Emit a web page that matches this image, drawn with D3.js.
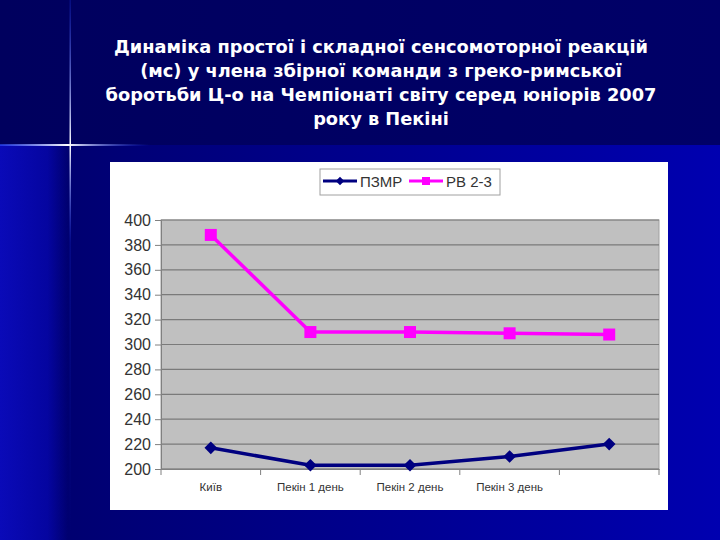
<!DOCTYPE html>
<html><head><meta charset="utf-8">
<script src="https://cdn.jsdelivr.net/npm/d3@7"></script>
<style>html,body{margin:0;padding:0;background:#000066;}svg{display:block;}</style>
</head><body>
<svg id="c" width="720" height="540"></svg>
<script>
const categories = ["Київ", "Пекін 1 день", "Пекін 2 день", "Пекін 3 день", ""];
const seriesNames = ["ПЗМР", "РВ 2-3"];
const pzmr = [217, 203, 203, 210, 220];
const rv23 = [388, 310, 310, 309, 308];
const yTicks = [200, 220, 240, 260, 280, 300, 320, 340, 360, 380, 400];
const titleLines = ["Динаміка простої і складної сенсомоторної реакцій",
  "(мс) у члена збірної команди з греко-римської",
  "боротьби Ц-о на Чемпіонаті світу серед юніорів 2007",
  "року в Пекіні"];

const svg = d3.select("#c");
const defs = svg.append("defs");
const g1 = defs.append("linearGradient").attr("id","bgLow").attr("x1","0").attr("x2","1").attr("y1","0").attr("y2","0");
g1.append("stop").attr("offset","0").attr("stop-color","#00006a");
g1.append("stop").attr("offset","1").attr("stop-color","#0000b0");
const g2 = defs.append("linearGradient").attr("id","strip").attr("x1","0").attr("x2","1");
g2.append("stop").attr("offset","0").attr("stop-color","#0a0ab8");
g2.append("stop").attr("offset","0.7").attr("stop-color","#0505a0");
g2.append("stop").attr("offset","1").attr("stop-color","#000070");
const g3 = defs.append("linearGradient").attr("id","top").attr("x1","0").attr("x2","1");
g3.append("stop").attr("offset","0").attr("stop-color","#00005e");
g3.append("stop").attr("offset","1").attr("stop-color","#000068");
const hl = defs.append("linearGradient").attr("id","hline").attr("x1","0").attr("x2","1");
hl.append("stop").attr("offset","0").attr("stop-color","#3050ff").attr("stop-opacity","0.6");
hl.append("stop").attr("offset","0.45").attr("stop-color","#ffffff").attr("stop-opacity","1");
hl.append("stop").attr("offset","1").attr("stop-color","#2040ff").attr("stop-opacity","0");
const vl = defs.append("linearGradient").attr("id","vline").attr("x1","0").attr("x2","0").attr("y1","0").attr("y2","1");
vl.append("stop").attr("offset","0").attr("stop-color","#2040ff").attr("stop-opacity","0.2");
vl.append("stop").attr("offset","0.27").attr("stop-color","#ffffff").attr("stop-opacity","1");
vl.append("stop").attr("offset","0.45").attr("stop-color","#2040ff").attr("stop-opacity","0.15");
vl.append("stop").attr("offset","1").attr("stop-color","#2040ff").attr("stop-opacity","0");

svg.append("rect").attr("x",0).attr("y",145).attr("width",720).attr("height",395).attr("fill","url(#bgLow)");
svg.append("rect").attr("x",0).attr("y",145).attr("width",68).attr("height",395).attr("fill","url(#strip)");
svg.append("rect").attr("x",0).attr("y",0).attr("width",720).attr("height",145).attr("fill","url(#top)");
svg.append("rect").attr("x",0).attr("y",144).attr("width",150).attr("height",2).attr("fill","url(#hline)");
svg.append("rect").attr("x",69.5).attr("y",0).attr("width",1.5).attr("height",540).attr("fill","url(#vline)");

// title
const title = svg.append("text").attr("text-anchor","middle").attr("fill","#ffffff")
  .style("font-family","'DejaVu Sans',sans-serif").style("font-weight","bold").style("font-size","17.8px");
titleLines.forEach((t,i)=>{
  title.append("tspan").attr("x",381).attr("y",53+i*24).text(t);
});

// chart area
svg.append("rect").attr("x",110).attr("y",162).attr("width",558).attr("height",348).attr("fill","#ffffff");

const x = d3.scaleBand().domain(d3.range(categories.length)).range([161,659]).padding(0);
const y = d3.scaleLinear().domain([200,400]).range([469,220]);

svg.append("rect").attr("x",161).attr("y",220).attr("width",498).attr("height",249).attr("fill","#c0c0c0").attr("stroke","#a0a0a0");

// gridlines
svg.append("g").selectAll("line").data(yTicks).join("line")
  .attr("x1",161).attr("x2",659).attr("y1",d=>y(d)).attr("y2",d=>y(d))
  .attr("stroke","#7a7a7a").attr("stroke-width",1.2);

// y axis
const yAxis = d3.axisLeft(y).tickValues(yTicks).tickSize(6).tickPadding(4);
const ya = svg.append("g").attr("transform","translate(161,0)").call(yAxis);
ya.select(".domain").attr("stroke","#808080");
ya.selectAll(".tick line").attr("stroke","#808080");
ya.selectAll("text").attr("fill","#333333").style("font-family","'Liberation Sans',Arial,sans-serif").style("font-size","16px");

// x axis
const xAxis = d3.axisBottom(x).tickFormat(i=>categories[i]).tickSize(0).tickPadding(14);
const xa = svg.append("g").attr("transform","translate(0,469)").call(xAxis);
xa.select(".domain").attr("stroke","#808080");
xa.selectAll("text").attr("fill","#333333").style("font-family","'Liberation Sans',Arial,sans-serif").style("font-size","11.5px");
// boundary ticks
const bounds = d3.range(categories.length+1).map(i=> i<categories.length ? x(i) : x.range()[1]);
svg.append("g").selectAll("line").data(bounds).join("line")
  .attr("x1",d=>d).attr("x2",d=>d).attr("y1",469).attr("y2",475).attr("stroke","#808080");

const cx = i => x(i) + x.bandwidth()/2;
const line = d3.line().x((d,i)=>cx(i)).y(d=>y(d));

svg.append("path").datum(rv23).attr("d",line).attr("fill","none").attr("stroke","#ff00ff").attr("stroke-width",3.5);
svg.append("g").selectAll("rect").data(rv23).join("rect")
  .attr("x",(d,i)=>cx(i)-6).attr("y",d=>y(d)-6).attr("width",12).attr("height",12).attr("fill","#ff00ff");

svg.append("path").datum(pzmr).attr("d",line).attr("fill","none").attr("stroke","#000080").attr("stroke-width",3.5);
svg.append("g").selectAll("path").data(pzmr).join("path")
  .attr("d",d3.symbol().type(d3.symbolSquare).size(80)).attr("transform",(d,i)=>`translate(${cx(i)},${y(d)}) rotate(45)`)
  .attr("fill","#000080");

// legend
const lg = svg.append("g");
lg.append("rect").attr("x",320).attr("y",169).attr("width",180).attr("height",26).attr("fill","#ffffff").attr("stroke","#a0a0a0");
lg.append("line").attr("x1",323).attr("x2",357).attr("y1",181).attr("y2",181).attr("stroke","#000080").attr("stroke-width",3);
lg.append("path").attr("d",d3.symbol().type(d3.symbolSquare).size(36)).attr("transform","translate(340,181) rotate(45)").attr("fill","#000080");
lg.append("text").attr("x",360).attr("y",187).text(seriesNames[0]).attr("fill","#333").style("font-family","'Liberation Sans',Arial,sans-serif").style("font-size","15px");
lg.append("line").attr("x1",409).attr("x2",443).attr("y1",181).attr("y2",181).attr("stroke","#ff00ff").attr("stroke-width",3);
lg.append("rect").attr("x",422).attr("y",177).attr("width",8).attr("height",8).attr("fill","#ff00ff");
lg.append("text").attr("x",446).attr("y",187).text(seriesNames[1]).attr("fill","#333").style("font-family","'Liberation Sans',Arial,sans-serif").style("font-size","15px");
</script>
</body></html>
